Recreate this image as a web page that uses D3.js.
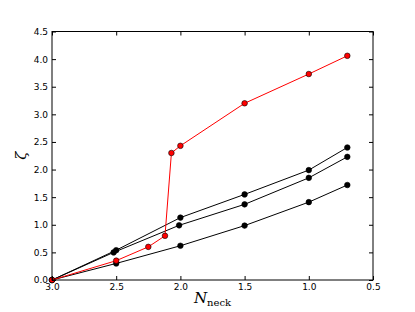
<!DOCTYPE html>
<html>
<head>
<meta charset="utf-8">
<script src="https://cdn.jsdelivr.net/npm/d3@7"></script>
<style>
  body { margin: 0; background: #fff; }
  svg { display: block; }
</style>
</head>
<body>
<div class="chart"></div>
<script>
// data
var xTicks = [3.0, 2.5, 2.0, 1.5, 1.0, 0.5];
var yTicks = [0.0, 0.5, 1.0, 1.5, 2.0, 2.5, 3.0, 3.5, 4.0, 4.5];

var redX = [3.0, 2.5, 2.25, 2.12, 2.07, 2.0, 1.5, 1.0, 0.7];
var redY = [0.0, 0.35, 0.6, 0.8, 2.3, 2.43, 3.2, 3.73, 4.06];

var blackX = [3.0, 2.5, 2.0, 1.5, 1.0, 0.7];
var blackTopY = [0.0, 0.54, 1.13, 1.55, 1.99, 2.40];
var blackMidX = [3.0, 2.52, 2.01, 1.5, 1.0, 0.7];
var blackMidY = [0.0, 0.50, 0.99, 1.37, 1.85, 2.23];
var blackLowY = [0.0, 0.30, 0.62, 0.985, 1.41, 1.72];

var width = 415;
var height = 312;
var margin = { top: 31.5, right: 42, bottom: 32, left: 52 };

var svg = d3.select(".chart")
  .append("svg")
  .attr("width", width)
  .attr("height", height);

var x = d3.scaleLinear()
  .domain([3.0, 0.5])
  .range([margin.left, width - margin.right]);

var y = d3.scaleLinear()
  .domain([0, 4.5])
  .range([height - margin.bottom, margin.top]);

function zip(xs, ys) {
  return xs.map(function(v, i) { return [v, ys[i]]; });
}

var series = [
  { pts: zip(blackX, blackLowY), color: "black" },
  { pts: zip(blackMidX, blackMidY), color: "black" },
  { pts: zip(blackX, blackTopY), color: "black" },
  { pts: zip(redX, redY), color: "red" }
];

var line = d3.line()
  .x(function(d) { return x(d[0]); })
  .y(function(d) { return y(d[1]); });

var plot = svg.append("g");

series.forEach(function(s) {
  plot.append("path")
    .datum(s.pts)
    .attr("fill", "none")
    .attr("stroke", s.color)
    .attr("stroke-width", 1)
    .attr("d", line);

  plot.selectAll(null)
    .data(s.pts)
    .enter().append("circle")
    .attr("cx", function(d) { return x(d[0]); })
    .attr("cy", function(d) { return y(d[1]); })
    .attr("r", 2.8)
    .attr("fill", s.color)
    .attr("stroke", "black")
    .attr("stroke-width", 0.6);
});

// axes with inward ticks on all four sides
var tickLen = 4;
var fontStyle = "9px 'DejaVu Sans'";

svg.append("g")
  .attr("transform", "translate(0," + y(0) + ")")
  .call(d3.axisBottom(x).tickValues(xTicks).tickFormat(d3.format(".1f"))
    .tickSizeInner(-tickLen).tickSizeOuter(0).tickPadding(4))
  .call(function(g) {
    g.select(".domain").remove();
    g.selectAll("text").style("font", fontStyle).attr("fill", "black");
  });

svg.append("g")
  .attr("transform", "translate(0," + y(4.5) + ")")
  .call(d3.axisTop(x).tickValues(xTicks).tickFormat("")
    .tickSizeInner(-tickLen).tickSizeOuter(0))
  .call(function(g) { g.select(".domain").remove(); });

svg.append("g")
  .attr("transform", "translate(" + x(3.0) + ",0)")
  .call(d3.axisLeft(y).tickValues(yTicks).tickFormat(d3.format(".1f"))
    .tickSizeInner(-tickLen).tickSizeOuter(0).tickPadding(4))
  .call(function(g) {
    g.select(".domain").remove();
    g.selectAll("text").style("font", fontStyle).attr("fill", "black");
  });

svg.append("g")
  .attr("transform", "translate(" + x(0.5) + ",0)")
  .call(d3.axisRight(y).tickValues(yTicks).tickFormat("")
    .tickSizeInner(-tickLen).tickSizeOuter(0))
  .call(function(g) { g.select(".domain").remove(); });

// frame
svg.append("rect")
  .attr("x", x(3.0))
  .attr("y", y(4.5))
  .attr("width", x(0.5) - x(3.0))
  .attr("height", y(0) - y(4.5))
  .attr("fill", "none")
  .attr("stroke", "black")
  .attr("stroke-width", 1);

// axis labels
svg.append("text")
  .attr("transform", "translate(26," + ((y(0) + y(4.5)) / 2) + ") rotate(-90)")
  .attr("text-anchor", "middle")
  .style("font", "italic 15px 'DejaVu Serif'")
  .text("ζ");

var xl = svg.append("text")
  .attr("x", (x(3.0) + x(0.5)) / 2)
  .attr("y", 303)
  .attr("text-anchor", "middle")
  .style("font", "italic 15px 'DejaVu Serif'");
xl.append("tspan").text("N");
xl.append("tspan")
  .attr("dy", 3)
  .style("font", "10px 'DejaVu Serif'")
  .text("neck");
</script>
</body>
</html>
